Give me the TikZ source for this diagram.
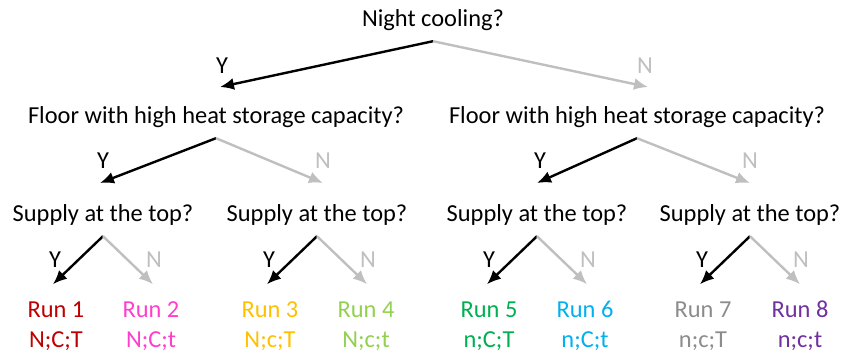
\documentclass[tikz,border=0pt]{standalone}
\usepackage{fontspec}
\setmainfont{Carlito}
\usepackage{tikz}
\usetikzlibrary{arrows.meta}
\definecolor{nogray}{HTML}{BFBFBF}
\definecolor{runA}{HTML}{C00000}
\definecolor{runB}{HTML}{FF3FCC}
\definecolor{runC}{HTML}{FFC000}
\definecolor{runD}{HTML}{92D050}
\definecolor{runE}{HTML}{00B050}
\definecolor{runF}{HTML}{00B0F0}
\definecolor{runG}{HTML}{8C8C8C}
\definecolor{runH}{HTML}{7030A0}
\tikzset{font=\fontsize{24.4pt}{28pt}\selectfont}
\tikzset{every node/.append style={transform shape=false}}
\tikzset{
  quest/.style={anchor=base,inner xsep=0pt,inner ysep=9pt,text height=17pt,text depth=6pt},
  run/.style={anchor=base,inner sep=0pt},
  yeslbl/.style={inner sep=0pt,text height=16pt,text depth=0pt},
  nolbl/.style={yeslbl,text=nogray},
  yesarrow/.style={line width=2.4pt,-{Latex[length=14pt,width=12pt]}},
  noarrow/.style={yesarrow,draw=nogray}
}

\begin{document}
\begin{tikzpicture}[x=1pt,y=-1pt]
  \useasboundingbox (0,0) rectangle (847,356);
  % questions
  \node[quest] (q0) at (433,26) {Night cooling?};
  \node[quest] (f1) at (216,123) {Floor with high heat storage capacity?};
  \node[quest] (f2) at (637,123) {Floor with high heat storage capacity?};
  \foreach \i/\x in {1/103,2/317,3/537,4/750}
    \node[quest] (s\i) at (\x,221) {Supply at the top?};
  % first split
  \coordinate (t0y) at (220,87);
  \coordinate (t0n) at (648,87);
  \draw[yesarrow] (q0.south) -- (t0y);
  \draw[noarrow] (q0.south) -- (t0n);
  \node[yeslbl] (l0y) at (222,65) {Y};
  \node[nolbl] (l0n) at (645,65) {N};
  % second split
  \coordinate (t1y) at (100,183);
  \coordinate (t1n) at (323,183);
  \coordinate (t2y) at (537,183);
  \coordinate (t2n) at (750,183);
  \foreach \f in {1,2} {
    \draw[yesarrow] (f\f.south) -- (t\f y);
    \draw[noarrow] (f\f.south) -- (t\f n);
    \node[yeslbl] (l\f y) at ([xshift=3pt,yshift=23pt]t\f y) {Y};
    \node[nolbl] (l\f n) at ([yshift=23pt]t\f n) {N};
  }
  % third split
  \foreach \i in {1,...,4} {
    \coordinate (u\i y) at ([xshift=-50pt,yshift=-48pt]s\i.south);
    \coordinate (u\i n) at ([xshift=50pt,yshift=-48pt]s\i.south);
    \draw[yesarrow] (s\i.south) -- (u\i y);
    \draw[noarrow] (s\i.south) -- (u\i n);
    \node[yeslbl] (m\i y) at ([xshift=2pt,yshift=25pt]u\i y) {Y};
    \node[nolbl] (m\i n) at ([xshift=1pt,yshift=25pt]u\i n) {N};
  }
  % runs
  \node[run,text=runA] (r1) at (56,317) {Run 1};
  \node[run,text=runA] (c1) at (56,347) {N;C;T};
  \node[run,text=runB] (r2) at (151,317) {Run 2};
  \node[run,text=runB] (c2) at (151,347) {N;C;t};
  \node[run,text=runC] (r3) at (270,317) {Run 3};
  \node[run,text=runC] (c3) at (270,347) {N;c;T};
  \node[run,text=runD] (r4) at (366,317) {Run 4};
  \node[run,text=runD] (c4) at (366,347) {N;c;t};
  \node[run,text=runE] (r5) at (489,317) {Run 5};
  \node[run,text=runE] (c5) at (489,347) {n;C;T};
  \node[run,text=runF] (r6) at (585,317) {Run 6};
  \node[run,text=runF] (c6) at (585,347) {n;C;t};
  \node[run,text=runG] (r7) at (703,317) {Run 7};
  \node[run,text=runG] (c7) at (703,347) {n;c;T};
  \node[run,text=runH] (r8) at (800,317) {Run 8};
  \node[run,text=runH] (c8) at (800,347) {n;c;t};
\end{tikzpicture}
\end{document}
